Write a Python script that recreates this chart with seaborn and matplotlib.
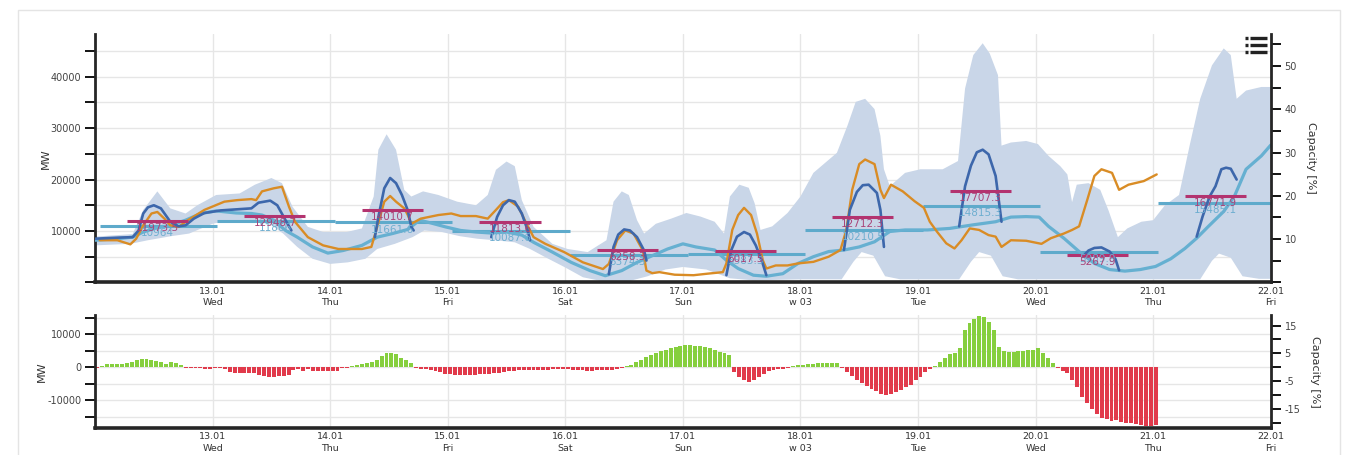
import numpy as np
import pandas as pd
import matplotlib
matplotlib.use("Agg")
import matplotlib.pyplot as plt
import seaborn as sns
from matplotlib.lines import Line2D
from matplotlib.patches import Rectangle

# x axis: days after 12.01 00:00
date_labels = ["", "13.01", "14.01", "15.01", "16.01", "17.01", "18.01", "19.01", "20.01", "21.01", "22.01"]
week_labels = ["", "Wed", "Thu", "Fri", "Sat", "Sun", "w 03", "Tue", "Wed", "Thu", "Fri"]

# forecast range (shaded band)
band_hi_day = [0.00, 0.32, 0.41, 0.53, 0.64, 0.77, 0.87, 1.03, 1.23, 1.36, 1.50, 1.59, 1.68, 1.81, 1.94,
               2.14, 2.27, 2.37, 2.41, 2.48, 2.56, 2.63, 2.69, 2.79, 2.92, 3.08, 3.24, 3.34, 3.41, 3.50,
               3.57, 3.63, 3.73, 3.89, 4.02, 4.19, 4.35, 4.41, 4.48, 4.54, 4.61, 4.67, 4.77, 4.90, 5.03,
               5.15, 5.27, 5.35, 5.40, 5.48, 5.56, 5.61, 5.66, 5.76, 5.89, 6.00, 6.11, 6.31, 6.40, 6.47,
               6.55, 6.63, 6.68, 6.71, 6.76, 6.89, 7.02, 7.21, 7.34, 7.40, 7.47, 7.55, 7.61, 7.68, 7.71,
               7.79, 7.92, 8.02, 8.11, 8.21, 8.27, 8.31, 8.35, 8.45, 8.55, 8.62, 8.70, 8.78, 8.90, 9.00,
               9.10, 9.22, 9.31, 9.40, 9.50, 9.60, 9.66, 9.71, 9.79, 9.92, 10.0]
band_hi_mw = [8900, 9400, 14100, 17700, 14400, 13400, 15000, 17000, 17300, 19000, 20300, 19300, 14700, 10800, 9800,
              9800, 10500, 16700, 25800, 28800, 25800, 18000, 16700, 17700, 17000, 15700, 15000, 17000, 21900, 23500,
              22600, 16000, 10800, 7500, 6500, 5900, 8200, 15700, 17700, 17000, 12100, 9500, 11400, 12400, 13500,
              12800, 11800, 9500, 16700, 19000, 18400, 15400, 10200, 10900, 13500, 16700, 21300, 25200, 30500, 35100,
              35700, 33700, 28500, 22000, 18700, 21300, 22000, 22000, 23600, 37700, 44200, 46500, 44500, 40300, 26600,
              27200, 27500, 26900, 24600, 22600, 21000, 15600, 19000, 19300, 18000, 14000, 8800, 10500, 11800, 12100,
              15000, 17000, 26600, 35700, 42200, 45500, 44200, 35700, 37300, 38000, 38000]
band_lo_day = [0.00, 0.30, 0.45, 0.65, 0.80, 1.00, 1.15, 1.40, 1.50, 1.60, 1.72, 1.85, 2.00, 2.15, 2.30,
               2.40, 2.55, 2.70, 2.80, 2.95, 3.10, 3.25, 3.40, 3.57, 3.70, 3.83, 4.00, 4.15, 4.30, 4.55,
               4.70, 4.85, 5.00, 5.20, 5.40, 5.60, 6.00, 6.35, 6.45, 6.52, 6.62, 6.72, 6.85, 7.35, 7.45,
               7.52, 7.62, 7.72, 7.85, 9.40, 9.50, 9.56, 9.66, 9.76, 9.90, 10.0]
band_lo_mw = [7200, 7500, 8200, 9000, 9500, 11400, 12100, 11800, 11100, 9500, 6900, 4600, 3600, 3900, 4600,
              6500, 7500, 8800, 10100, 9800, 9000, 8500, 8200, 7800, 6500, 4900, 2900, 1000, 300, 300,
              1200, 2500, 3000, 2500, 800, 400, 600, 600, 4000, 5900, 5200, 1200, 600, 600, 4000,
              5900, 5200, 1200, 600, 600, 4200, 5600, 4800, 1200, 700, 700]

# forecast (dark blue), daytime segments split by nan
fc_day = [0.00, 0.19, 0.32, 0.37, 0.41, 0.45, 0.50, 0.56, 0.64, 0.71, 0.77, 0.84, 0.93, 1.07, 1.20, 1.33, 1.39,
          1.49, 1.55, 1.62, 1.67, np.nan,
          2.38, 2.41, 2.46, 2.51, 2.56, 2.61, 2.66, 2.69, 2.71, np.nan,
          3.37, 3.42, 3.47, 3.52, 3.57, 3.63, 3.68, 3.70, np.nan,
          4.37, 4.41, 4.45, 4.50, 4.55, 4.61, 4.67, 4.69, np.nan,
          5.37, 5.41, 5.46, 5.52, 5.57, 5.62, 5.67, 5.71, np.nan,
          6.37, 6.42, 6.48, 6.53, 6.58, 6.65, 6.68, 6.71, np.nan,
          7.35, 7.40, 7.45, 7.50, 7.55, 7.60, 7.66, 7.69, 7.71, np.nan,
          8.40, 8.45, 8.50, 8.56, 8.63, 8.68, 8.71, np.nan,
          9.37, 9.42, 9.48, 9.53, 9.58, 9.62, 9.66, 9.71]
fc_mw = [8500, 8700, 8800, 10100, 13400, 14600, 15000, 14400, 11800, 10900, 11100, 12400, 13500, 14000, 14200, 14400,
         15500, 15900, 15000, 12100, 10100, np.nan,
         8800, 12750, 18300, 20300, 19300, 17000, 14000, 10800, 10100, np.nan,
         8800, 12750, 15000, 16000, 15700, 13400, 10100, 8200, np.nan,
         1600, 6900, 9300, 10300, 10100, 8800, 6200, 4250, np.nan,
         1400, 6200, 8900, 9800, 9300, 7200, 4300, 1400, np.nan,
         6300, 14100, 17600, 18900, 19000, 17400, 14100, 6900, np.nan,
         10900, 18700, 22700, 25300, 25800, 24900, 20700, 15400, 11800, np.nan,
         5000, 6200, 6700, 6800, 6000, 4500, 2350, np.nan,
         8900, 12800, 16700, 18700, 22000, 22300, 22100, 20000]

# actual (orange)
act_day = [0.04, 0.19, 0.30, 0.35, 0.41, 0.48, 0.53, 0.59, 0.64, 0.71, 0.79, 0.93, 1.10, 1.21, 1.33, 1.37,
           1.42, 1.52, 1.59, 1.65, 1.70, 1.81, 1.94, 2.07, 2.27, 2.35, 2.40, 2.46, 2.51, 2.56, 2.63, 2.66,
           2.69, 2.77, 2.92, 3.03, 3.11, 3.24, 3.34, 3.41, 3.47, 3.52, 3.60, 3.67, 3.73, 3.83, 3.99, 4.15,
           4.32, 4.37, 4.44, 4.51, 4.58, 4.66, 4.69, 4.74, 4.80, 4.93, 5.09, 5.21, 5.34, 5.37, 5.42, 5.47,
           5.52, 5.58, 5.63, 5.68, 5.71, 5.79, 5.89, 5.98, 6.11, 6.24, 6.34, 6.39, 6.44, 6.50, 6.55, 6.63,
           6.68, 6.71, 6.77, 6.87, 6.97, 7.05, 7.10, 7.16, 7.24, 7.31, 7.37, 7.44, 7.52, 7.60, 7.66, 7.71,
           7.79, 7.92, 8.05, 8.13, 8.24, 8.31, 8.37, 8.44, 8.50, 8.56, 8.65, 8.71, 8.79, 8.92, 9.03]
act_mw = [8200, 8200, 7400, 8500, 11100, 13400, 13700, 12400, 11100, 10800, 12100, 14100, 15700, 16000, 16200, 16000,
          17700, 18300, 18600, 14700, 11800, 8800, 7200, 6500, 6500, 6900, 10800, 15700, 16800, 15700, 14400, 13100,
          11400, 12400, 13100, 13400, 12900, 12900, 12400, 14100, 15600, 16000, 14700, 11400, 8800, 7500, 5900, 3900,
          2600, 3600, 8200, 10100, 9500, 6200, 2300, 1800, 2000, 1500, 1400, 1700, 2000, 3700, 10200, 13100,
          14500, 13100, 9500, 4300, 2700, 3300, 3300, 3700, 4000, 5000, 6300, 10200, 18000, 23000, 23900, 23000,
          18000, 16400, 19000, 17700, 15800, 14500, 11800, 9900, 7600, 6600, 8200, 10500, 10200, 9200, 8900, 6900,
          8200, 8100, 7500, 8600, 9500, 10200, 10900, 16100, 20700, 22000, 21300, 18000, 19000, 19700, 21000]

# reference (light blue)
ref_day = [0.00, 0.19, 0.32, 0.41, 0.51, 0.64, 0.77, 0.90, 1.03, 1.20, 1.33, 1.42, 1.52, 1.62, 1.72, 1.85,
           1.98, 2.11, 2.27, 2.40, 2.53, 2.66, 2.76, 2.85, 2.98, 3.11, 3.24, 3.37, 3.50, 3.63, 3.73, 3.89,
           4.05, 4.21, 4.34, 4.48, 4.61, 4.74, 4.87, 5.00, 5.11, 5.27, 5.37, 5.47, 5.60, 5.71, 5.85, 5.98,
           6.11, 6.24, 6.37, 6.50, 6.63, 6.76, 6.89, 7.08, 7.27, 7.47, 7.66, 7.79, 7.92, 8.03, 8.11, 8.24,
           8.37, 8.50, 8.63, 8.76, 8.89, 9.02, 9.15, 9.27, 9.37, 9.47, 9.60, 9.69, 9.79, 9.92, 10.0]
ref_mw = [8200, 8500, 8800, 9800, 10500, 11100, 12100, 13400, 13900, 13500, 13400, 13100, 12100, 10100, 8800, 6900,
          5700, 6200, 7200, 8800, 9500, 10300, 12100, 11600, 10800, 10100, 9800, 9600, 9800, 9200, 7800, 5900,
          3900, 2300, 1300, 2300, 3900, 5200, 6500, 7500, 6900, 6300, 4300, 2700, 1400, 1200, 1700, 3700,
          5000, 6000, 6300, 6900, 7900, 9900, 10200, 10200, 10500, 11200, 11800, 12700, 12800, 12700, 10900, 8600,
          6000, 3700, 2500, 2200, 2500, 3100, 4600, 6600, 8600, 10900, 13800, 16700, 22000, 24600, 26700]

# daily mean levels
ref_mean = [10964, 11866, 11661.6, 10087.6, 5374.3, 5583.3, 10210.5, 14815.3, 5989.9, 15485.1]
peak_mean = [11973.5, 12948.7, 14010.7, 11813.6, 6258.3, 6017.5, 12712.3, 17707.3, 5267.9, 16771.9]

# hourly deviation bars, one list per day
dev_12 = [-100, 300, 900, 1000, 1000, 1100, 1300, 1600, 2100, 2500, 2500, 2200, 1900, 1500, 1100, 1500, 1200, 700, -200, -200, -300, -300, -500, -600]
dev_13 = [-300, -300, -400, -1300, -1700, -1800, -1800, -1700, -1800, -2300, -2600, -2800, -3000, -2700, -2500, -2400, -700, -600, -1000, -500, -1000, -1100, -1100, -1100]
dev_14 = [-1100, -1100, -300, -200, 300, 700, 900, 1200, 1600, 2200, 3500, 4300, 4200, 4100, 2800, 2300, 1300, -300, -400, -500, -900, -1200, -1500, -2000]
dev_15 = [-2000, -2200, -2300, -2300, -2300, -2200, -2100, -2000, -1900, -1800, -1600, -1400, -1200, -1000, -900, -900, -800, -800, -700, -700, -700, -600, -600, -500]
dev_16 = [-600, -700, -800, -900, -1000, -1000, -900, -800, -800, -700, -500, -200, 300, 800, 1500, 2200, 3000, 3600, 4200, 4800, 5300, 5800, 6200, 6500]
dev_17 = [6800, 6700, 6500, 6300, 6000, 5700, 5200, 4500, 4200, 3800, -1500, -2800, -3800, -4400, -4000, -3000, -1900, -1000, -800, -600, -400, -300, 300, 600]
dev_18 = [800, 1000, 1100, 1200, 1200, 1300, 1300, 1200, -300, -1500, -2700, -3800, -4800, -5700, -6600, -7300, -8000, -8300, -8000, -7500, -6900, -5900, -5400, -3800]
dev_19 = [-2800, -1300, -500, 400, 1700, 2700, 3900, 4400, 5800, 11300, 13300, 14500, 15400, 15200, 13600, 11300, 6100, 4900, 4700, 4700, 4900, 5000, 5300, 5300]
dev_20 = [5800, 4200, 2700, 1400, -100, -1000, -1800, -3800, -5900, -8900, -10900, -12600, -14100, -15300, -15800, -16200, -16000, -16500, -16800, -17000, -17200, -17500, -17700, -17700]
dev_21 = [-17500, 150, 150, 150, 150, 150, 150, 150, 150, 150, 150, 150, 150, 150, 150, 150, 150, 150, 150, 150, 150, 150, 150, 150]

BAND = "#c9d6e8"
DARK = "#3d67ab"
ORANGE = "#d98c25"
LIGHT = "#66b0d1"
MEAN = "#5eaacb"
PEAK = "#b3336f"
GREEN = "#86cf3e"
RED = "#e13a4b"

sns.set_style("white")
plt.rcParams["font.family"] = ["DejaVu Sans"]

fig = plt.figure(figsize=(13.52, 4.55), dpi=100)
fig.patches.append(Rectangle((18 / 1352, -0.01), 1322 / 1352, 1 - 10 / 455 + 0.01, transform=fig.transFigure,
                             fill=False, edgecolor="#e4e4e4", lw=1))
ax = fig.add_axes([0.0703, 0.3793, 0.8696, 0.5460])
ax2 = fig.add_axes([0.0703, 0.0587, 0.8696, 0.2490])

# ---- top panel
ax.fill(np.r_[band_hi_day, band_lo_day[::-1]], np.r_[band_hi_mw, band_lo_mw[::-1]],
        color=BAND, lw=0, zorder=1)
days = np.arange(10)
ax.hlines(ref_mean, days + 0.04, days + 1.04, color=MEAN, lw=2.2, zorder=2)

ref_df = pd.DataFrame({"day": ref_day, "MW": ref_mw})
sns.lineplot(data=ref_df, x="day", y="MW", color=LIGHT, lw=2.3, estimator=None, sort=False, ax=ax, zorder=3)
act_df = pd.DataFrame({"day": act_day, "MW": act_mw})
sns.lineplot(data=act_df, x="day", y="MW", color=ORANGE, lw=1.7, estimator=None, sort=False, ax=ax, zorder=4)
fc_df = pd.DataFrame({"day": fc_day, "MW": fc_mw})
fc_df["seg"] = fc_df["MW"].isna().cumsum()
fc_df = fc_df.dropna()
sns.lineplot(data=fc_df, x="day", y="MW", units="seg", color=DARK, lw=1.9, estimator=None, sort=False, ax=ax,
             zorder=5)
ax.hlines(peak_mean, days + 0.27, days + 0.79, color=PEAK, lw=2.2, zorder=6)


def fmt(v):
    return ("%.1f" % v).rstrip("0").rstrip(".")


for i in range(10):
    ax.annotate(fmt(ref_mean[i]), xy=(i + 0.53, ref_mean[i]), xytext=(0, -1.5), textcoords="offset points",
                ha="center", va="top", fontsize=7.5, color="#6eaed0", zorder=7)
    ax.annotate(fmt(peak_mean[i]), xy=(i + 0.53, peak_mean[i]), xytext=(0, -1.5), textcoords="offset points",
                ha="center", va="top", fontsize=7.5, color="#a94479", zorder=7)

# ---- bottom panel
dev = np.array(dev_12 + dev_13 + dev_14 + dev_15 + dev_16 + dev_17 + dev_18 + dev_19 + dev_20 + dev_21)
bar_df = pd.DataFrame({"day": (np.arange(len(dev)) + 0.5) / 24, "MW": dev})
bar_df["sign"] = np.where(bar_df["MW"] >= 0, "pos", "neg")
sns.barplot(data=bar_df, x="day", y="MW", hue="sign", palette={"pos": GREEN, "neg": RED}, native_scale=True,
            dodge=False, width=0.8, errorbar=None, saturation=1, legend=False, linewidth=0, ax=ax2)

# ---- axes styling
for a, lo, hi in [(ax, 0, 48300), (ax2, -18500, 15850)]:
    a.set_xlim(0, 10)
    a.set_ylim(lo, hi)
    a.set_xticks(range(11))
    a.set_xticklabels([d + "\n" + w for d, w in zip(date_labels, week_labels)], fontsize=6.8, color="#333333",
                      linespacing=1.35)
    a.set_xticks([6, 10], minor=True)
    a.tick_params(axis="x", which="major", length=0, pad=3)
    a.tick_params(axis="x", which="minor", length=11, width=1, color="#333333")
    a.tick_params(axis="y", direction="out", length=7, width=1.3, color="black", labelsize=7,
                  labelcolor="#444444", pad=3)
    a.grid(True, which="major", color="#e6e6e6", lw=1)
    a.set_axisbelow(True)
    a.spines["top"].set_visible(False)
    a.spines["right"].set_visible(False)
    a.spines["left"].set_linewidth(2)
    a.spines["bottom"].set_linewidth(2.6)
    a.set_xlabel("")
    a.set_ylabel("MW", fontsize=8, color="#333333", labelpad=0)

ticks = np.arange(0, 48000, 5000)
ax.set_yticks(ticks)
ax.set_yticklabels([str(t) if t % 10000 == 0 and t > 0 else "" for t in ticks])
ticks2 = np.arange(-15000, 15001, 5000)
ax2.set_yticks(ticks2)
ax2.set_yticklabels([str(t) if t % 10000 == 0 else "" for t in ticks2])

for a, lo, hi, tk, lab in [(ax, 0, 57.4, np.arange(0, 56, 5), lambda t: str(t) if t % 10 == 0 and t > 0 else ""),
                          (ax2, -21.9, 18.8, np.arange(-20, 16, 5), lambda t: str(t) if t % 10 != 0 else "")]:
    r = a.twinx()
    r.set_ylim(lo, hi)
    r.set_yticks(tk)
    r.set_yticklabels([lab(t) for t in tk])
    r.tick_params(axis="y", direction="out", length=7, width=1.3, color="black", labelsize=7,
                  labelcolor="#444444", pad=3)
    for s in ["top", "left", "bottom"]:
        r.spines[s].set_visible(False)
    r.spines["right"].set_linewidth(2)
    r.set_ylabel("Capacity [%]", rotation=270, fontsize=8, color="#333333", labelpad=14)

# menu icon
for k in range(3):
    yy = 1 - (38 + 7 * k) / 455
    fig.add_artist(Line2D([1250 / 1352, 1267 / 1352], [yy, yy], color="#222222", lw=2.4,
                          solid_capstyle="butt", transform=fig.transFigure))
    fig.add_artist(Line2D([1245 / 1352, 1247.5 / 1352], [yy, yy], color="#222222", lw=2.4,
                          solid_capstyle="butt", transform=fig.transFigure))

fig.savefig("out.png", dpi=100)
